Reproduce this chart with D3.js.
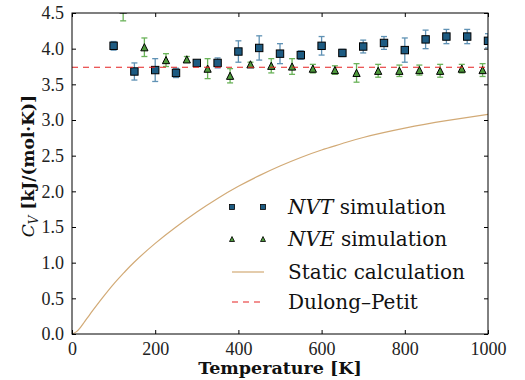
<!DOCTYPE html>
<html>
<head>
<meta charset="utf-8">
<script src="https://cdn.jsdelivr.net/npm/d3@7"></script>
<style>
  body { margin: 0; background: #fff; }
  svg { display: block; }
</style>
</head>
<body>
<svg id="chart" width="525" height="380"></svg>
<script>
// data
var nvtT   = [100, 150, 200, 250, 300, 350, 400, 450, 500, 550, 600, 650, 700, 750, 800, 850, 900, 950, 1000];
var nvtCv  = [4.04, 3.68, 3.70, 3.66, 3.80, 3.80, 3.96, 4.01, 3.93, 3.91, 4.04, 3.94, 4.03, 4.08, 3.98, 4.13, 4.17, 4.17, 4.11];
var nvtErr = [0.06, 0.12, 0.16, 0.065, 0.035, 0.07, 0.15, 0.17, 0.14, 0.06, 0.13, 0.05, 0.09, 0.09, 0.17, 0.13, 0.10, 0.10, 0.10];

var nveT   = [123, 174, 226, 276, 326, 380, 429, 479, 529, 579, 632, 684, 736, 787, 835, 885, 937, 987];
var nveCv  = [4.55, 4.02, 3.84, 3.85, 3.72, 3.62, 3.78, 3.76, 3.75, 3.72, 3.70, 3.66, 3.69, 3.69, 3.70, 3.69, 3.72, 3.70];
var nveErr = [0.16, 0.13, 0.09, 0.04, 0.14, 0.10, 0.03, 0.10, 0.11, 0.06, 0.06, 0.13, 0.09, 0.08, 0.07, 0.09, 0.06, 0.09];

var staticT  = [0, 10, 20, 30, 40, 50, 75, 100, 125, 150, 200, 250, 300, 350, 400, 450, 500, 550, 600, 650, 700, 800, 900, 1000];
var staticCv = [0, 0.03, 0.09, 0.17, 0.25, 0.33, 0.52, 0.70, 0.86, 1.01, 1.27, 1.50, 1.71, 1.90, 2.07, 2.22, 2.355, 2.475, 2.58, 2.67, 2.755, 2.885, 2.99, 3.08];

var dulongPetit = 3.74;

var xTicks = [0, 200, 400, 600, 800, 1000];
var yTicks = [0, 0.5, 1, 1.5, 2, 2.5, 3, 3.5, 4, 4.5];

var legendLabels = ['NVT', 'NVE', 'Static calculation', 'Dulong\u2013Petit'];

// layout ('top' is taken by window.top, so padL / padT)
var padL = 72, padT = 13, plotW = 416, plotH = 321;
var tickFont = '"Liberation Serif", serif';
var textFont = '"DejaVu Serif", serif';

var nvtFill = '#1d5b82', nvtBar = '#4f87ad';
var nveFill = '#4d9a3b', nveBar = '#5bab48';
var staticCol = '#d2aa76', dpCol = '#e52222';

var svg = d3.select('#chart');

var x = d3.scaleLinear().domain([0, 1000]).range([padL, padL + plotW]);
var y = d3.scaleLinear().domain([0, 4.5]).range([padT + plotH, padT]);

svg.append('defs').append('clipPath').attr('id', 'plotclip')
  .append('rect').attr('x', padL).attr('y', padT).attr('width', plotW).attr('height', plotH);

var plot = svg.append('g').attr('clip-path', 'url(#plotclip)');

function triPath(s){
  return 'M0,' + (-s) + 'L' + (-s) + ',' + s + 'L' + s + ',' + s + 'Z';
}

function errorSeries(T, V, E, barCol){
  var g = plot.append('g');
  var pts = T.map(function(t, i){ return {t: t, v: V[i], e: E[i]}; });
  var bars = g.selectAll('g').data(pts).enter().append('g')
    .attr('stroke', barCol).attr('stroke-width', 1.3).attr('opacity', 0.9);
  bars.append('line')
    .attr('x1', function(d){ return x(d.t); }).attr('x2', function(d){ return x(d.t); })
    .attr('y1', function(d){ return y(d.v - d.e); }).attr('y2', function(d){ return y(d.v + d.e); });
  [-1, 1].forEach(function(sgn){
    bars.append('line')
      .attr('x1', function(d){ return x(d.t) - 3; }).attr('x2', function(d){ return x(d.t) + 3; })
      .attr('y1', function(d){ return y(d.v + sgn * d.e); }).attr('y2', function(d){ return y(d.v + sgn * d.e); });
  });
  return {g: g, pts: pts};
}

// NVT squares
var nvt = errorSeries(nvtT, nvtCv, nvtErr, nvtBar);
nvt.g.selectAll('rect').data(nvt.pts).enter().append('rect')
  .attr('x', function(d){ return x(d.t) - 3.7; }).attr('y', function(d){ return y(d.v) - 3.7; })
  .attr('width', 7.4).attr('height', 7.4)
  .attr('fill', nvtFill).attr('stroke', '#000').attr('stroke-width', 1);

// NVE triangles
var nve = errorSeries(nveT, nveCv, nveErr, nveBar);
nve.g.selectAll('path').data(nve.pts).enter().append('path')
  .attr('d', triPath(3.6))
  .attr('transform', function(d){ return 'translate(' + x(d.t) + ',' + y(d.v) + ')'; })
  .attr('fill', nveFill).attr('stroke', '#000').attr('stroke-width', 1);

// static calculation
var line = d3.line().x(function(d){ return x(d[0]); }).y(function(d){ return y(d[1]); })
  .curve(d3.curveNatural);
plot.append('path').datum(staticT.map(function(t, i){ return [t, staticCv[i]]; }))
  .attr('d', line).attr('fill', 'none').attr('stroke', staticCol).attr('stroke-width', 1.2);

// Dulong-Petit
plot.append('line')
  .attr('x1', x(0)).attr('x2', x(1000)).attr('y1', y(dulongPetit)).attr('y2', y(dulongPetit))
  .attr('stroke', dpCol).attr('stroke-width', 1.1).attr('stroke-dasharray', '6,5');

// axes, ticks inward on all four sides
function styleAxis(g){
  g.select('.domain').remove();
  g.selectAll('.tick line').attr('stroke', '#000').attr('stroke-width', 1);
  g.selectAll('.tick text').attr('font-family', tickFont).attr('font-size', 18).attr('fill', '#222');
}
svg.append('g').attr('transform', 'translate(0,' + (padT + plotH) + ')')
  .call(d3.axisBottom(x).tickValues(xTicks).tickSize(-4).tickPadding(8).tickFormat(d3.format('d')))
  .call(styleAxis);
svg.append('g').attr('transform', 'translate(0,' + padT + ')')
  .call(d3.axisTop(x).tickValues(xTicks).tickSize(-4).tickFormat(''))
  .call(styleAxis);
svg.append('g').attr('transform', 'translate(' + padL + ',0)')
  .call(d3.axisLeft(y).tickValues(yTicks).tickSize(-4).tickPadding(8).tickFormat(d3.format('.1f')))
  .call(styleAxis);
svg.append('g').attr('transform', 'translate(' + (padL + plotW) + ',0)')
  .call(d3.axisRight(y).tickValues(yTicks).tickSize(-4).tickFormat(''))
  .call(styleAxis);

svg.append('rect').attr('x', padL).attr('y', padT).attr('width', plotW).attr('height', plotH)
  .attr('fill', 'none').attr('stroke', '#000').attr('stroke-width', 1);

// axis labels
svg.append('text').attr('x', padL + plotW / 2).attr('y', 374)
  .attr('text-anchor', 'middle').attr('font-family', textFont).attr('font-weight', 'bold')
  .attr('font-size', 17.5).attr('fill', '#111').text('Temperature [K]');

var yl = svg.append('text').attr('transform', 'translate(34,166) rotate(-90)')
  .attr('text-anchor', 'middle').attr('font-family', textFont).attr('font-size', 17).attr('fill', '#111');
yl.append('tspan').attr('font-style', 'italic').text('C');
yl.append('tspan').attr('font-style', 'italic').attr('font-size', 12).attr('dy', 4).text('V');
yl.append('tspan').attr('dy', -4).attr('font-weight', 'bold').text(' [kJ/(mol\u00b7K)]');

// legend
var lg = svg.append('g');
var rows = [207, 239, 272, 302];
var mx = [232, 263];
var textX = 288;

mx.forEach(function(px){
  lg.append('rect').attr('x', px - 2.5).attr('y', rows[0] - 2.5).attr('width', 5).attr('height', 5)
    .attr('fill', nvtFill).attr('stroke', '#000').attr('stroke-width', 0.8);
  lg.append('path').attr('d', triPath(2.5)).attr('transform', 'translate(' + px + ',' + rows[1] + ')')
    .attr('fill', nveFill).attr('stroke', '#000').attr('stroke-width', 0.8);
});
lg.append('line').attr('x1', 232).attr('x2', 264).attr('y1', rows[2]).attr('y2', rows[2])
  .attr('stroke', staticCol).attr('stroke-width', 1.2);
lg.append('line').attr('x1', 232).attr('x2', 264).attr('y1', rows[3]).attr('y2', rows[3])
  .attr('stroke', dpCol).attr('stroke-width', 1.1).attr('stroke-dasharray', '6,5');

legendLabels.forEach(function(lbl, i){
  var t = lg.append('text').attr('x', textX).attr('y', rows[i] + 7)
    .attr('font-family', textFont).attr('font-size', 20).attr('fill', '#111');
  if (i < 2) {
    t.append('tspan').attr('font-style', 'italic').text(lbl);
    t.append('tspan').text(' simulation');
  } else {
    t.text(lbl);
  }
});
</script>
</body>
</html>
